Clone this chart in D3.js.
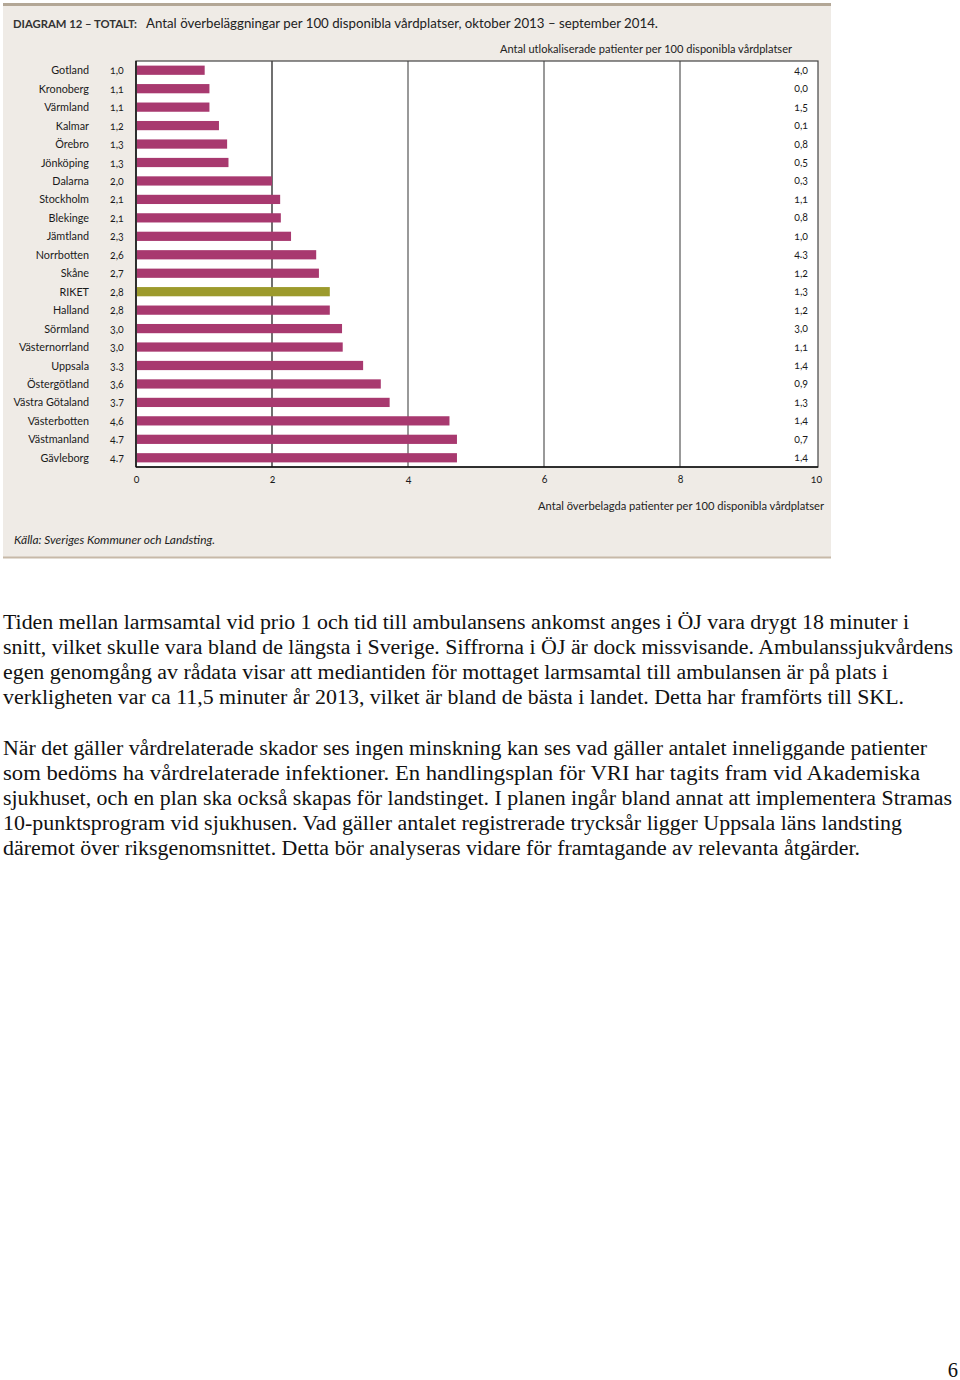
<!DOCTYPE html>
<html><head><meta charset="utf-8">
<script src="https://cdn.jsdelivr.net/npm/d3@7"></script>
<style>
html,body{margin:0;padding:0;background:#fff;}
svg{display:block;}
</style></head>
<body>
<script>
// ---- data ----
const regions = ["Gotland","Kronoberg","Värmland","Kalmar","Örebro","Jönköping","Dalarna","Stockholm","Blekinge","Jämtland","Norrbotten","Skåne","RIKET","Halland","Sörmland","Västernorrland","Uppsala","Östergötland","Västra Götaland","Västerbotten","Västmanland","Gävleborg"];
// printed values (överbelagda per 100 vårdplatser)
const overLabels = ["1,0","1,1","1,1","1,2","1,3","1,3","2,0","2,1","2,1","2,3","2,6","2,7","2,8","2,8","3,0","3,0","3.3","3,6","3.7","4,6","4.7","4.7"];
// bar lengths
const overValues = [1.01,1.08,1.08,1.22,1.34,1.36,2.0,2.12,2.13,2.28,2.65,2.69,2.85,2.85,3.03,3.04,3.34,3.6,3.73,4.61,4.72,4.72];
// utlokaliserade per 100 vårdplatser
const utlokLabels = ["4,0","0,0","1,5","0,1","0,8","0,5","0,3","1,1","0,8","1,0","4.3","1,2","1,3","1,2","3,0","1,1","1,4","0,9","1,3","1,4","0,7","1,4"];
const xTicks = [0,2,4,6,8,10];

const titleBold = "DIAGRAM 12 – TOTALT:";
const titleText = "Antal överbeläggningar per 100 disponibla vårdplatser, oktober 2013 – september 2014.";
const subTitle = "Antal utlokaliserade patienter per 100 disponibla vårdplatser";
const xTitle = "Antal överbelagda patienter per 100 disponibla vårdplatser";
const source = "Källa: Sveriges Kommuner och Landsting.";

const para1 = [
"Tiden mellan larmsamtal vid prio 1 och tid till ambulansens ankomst anges i ÖJ vara drygt 18 minuter i",
"snitt, vilket skulle vara bland de längsta i Sverige. Siffrorna i ÖJ är dock missvisande. Ambulanssjukvårdens",
"egen genomgång av rådata visar att mediantiden för mottaget larmsamtal till ambulansen är på plats i",
"verkligheten var ca 11,5 minuter år 2013, vilket är bland de bästa i landet. Detta har framförts till SKL."];
const para2 = [
"När det gäller vårdrelaterade skador ses ingen minskning kan ses vad gäller antalet inneliggande patienter",
"som bedöms ha vårdrelaterade infektioner. En handlingsplan för VRI har tagits fram vid Akademiska",
"sjukhuset, och en plan ska också skapas för landstinget. I planen ingår bland annat att implementera Stramas",
"10-punktsprogram vid sjukhusen. Vad gäller antalet registrerade trycksår ligger Uppsala läns landsting",
"däremot över riksgenomsnittet. Detta bör analyseras vidare för framtagande av relevanta åtgärder."];
const pageNo = "6";

// ---- drawing ----
const W = 960, H = 1380;
const svg = d3.select("body").append("svg").attr("width", W).attr("height", H);
svg.append("rect").attr("width", W).attr("height", H).attr("fill", "#fff");

const sans = "Lato, 'Open Sans', sans-serif";

// panel
const panel = svg.append("g");
panel.append("rect").attr("x", 3).attr("y", 4).attr("width", 828).attr("height", 554).attr("fill", "#efebe6");
panel.append("rect").attr("x", 3).attr("y", 3).attr("width", 828).attr("height", 3).attr("fill", "#b3a796");
panel.append("rect").attr("x", 3).attr("y", 556.5).attr("width", 828).attr("height", 2).attr("fill", "#c7b9a8");

// title
svg.append("text").attr("x", 13).attr("y", 28).attr("font-family", sans).attr("font-weight", 700)
  .attr("font-size", 10.5).attr("fill", "#333").attr("textLength", 124).attr("lengthAdjust", "spacingAndGlyphs")
  .text(titleBold);
svg.append("text").attr("x", 146).attr("y", 28).attr("font-family", sans)
  .attr("font-size", 13).attr("fill", "#222").attr("textLength", 512).attr("lengthAdjust", "spacingAndGlyphs")
  .text(titleText);
svg.append("text").attr("x", 792).attr("y", 53).attr("text-anchor", "end").attr("font-family", sans)
  .attr("font-size", 10.5).attr("fill", "#222").attr("textLength", 292).attr("lengthAdjust", "spacingAndGlyphs")
  .text(subTitle);

// scales
const x = d3.scaleLinear().domain([0, 10]).range([136, 816]);
const y = d3.scaleBand().domain(regions).range([61, 467]).paddingInner(0.5).paddingOuter(0.25);
const plotL = 136, plotR = 818, plotT = 61, plotB = 467;

const plot = svg.append("g");
plot.append("rect").attr("x", plotL).attr("y", plotT).attr("width", plotR - plotL).attr("height", plotB - plotT)
  .attr("fill", "#fff");

// gridlines
plot.selectAll("line.grid").data(xTicks.filter(d => d > 0 && d < 10)).join("line")
  .attr("class", "grid")
  .attr("x1", d => x(d)).attr("x2", d => x(d)).attr("y1", plotT).attr("y2", plotB)
  .attr("stroke", d => d === 2 ? "#111" : "#555").attr("stroke-width", 1.2);

// bars
plot.selectAll("rect.bar").data(regions).join("rect")
  .attr("class", "bar")
  .attr("x", x(0) + 1)
  .attr("y", d => y(d))
  .attr("width", (d, i) => x(overValues[i]) - x(0) - 1)
  .attr("height", y.bandwidth())
  .attr("fill", d => d === "RIKET" ? "#9c9a2c" : "#a8396f");

// border
plot.append("rect").attr("x", plotL).attr("y", plotT).attr("width", plotR - plotL).attr("height", plotB - plotT)
  .attr("fill", "none").attr("stroke", "#444").attr("stroke-width", 1.2);
plot.append("line").attr("x1", plotL).attr("x2", plotL).attr("y1", plotT).attr("y2", plotB).attr("stroke", "#111").attr("stroke-width", 1.5);
plot.append("line").attr("x1", plotL).attr("x2", plotR).attr("y1", plotB).attr("y2", plotB).attr("stroke", "#111").attr("stroke-width", 1.5);

// region labels
svg.append("g").selectAll("text").data(regions).join("text")
  .attr("x", 89).attr("y", d => y(d) + y.bandwidth() / 2 + 4)
  .attr("text-anchor", "end").attr("font-family", sans).attr("font-size", 10.8).attr("fill", "#1a1a1a")
  .text(d => d);

// printed values
svg.append("g").selectAll("text").data(regions).join("text")
  .attr("x", 110).attr("y", d => y(d) + y.bandwidth() / 2 + 4)
  .attr("font-family", sans).attr("font-size", 10.5).attr("fill", "#1a1a1a")
  .style("font-feature-settings", "'onum' 1")
  .text((d, i) => overLabels[i]);

// utlok values
svg.append("g").selectAll("text").data(regions).join("text")
  .attr("x", 808).attr("y", d => y(d) + y.bandwidth() / 2 + 3.5)
  .attr("text-anchor", "end").attr("font-family", sans).attr("font-size", 10.5).attr("fill", "#1a1a1a")
  .style("font-feature-settings", "'onum' 1")
  .text((d, i) => utlokLabels[i]);

// x axis
const xAxis = d3.axisBottom(x).tickValues(xTicks).tickSize(0).tickPadding(9).tickFormat(d3.format("d"));
const ax = svg.append("g").attr("transform", `translate(0,${plotB})`).call(xAxis);
ax.select(".domain").remove();
ax.selectAll("text").attr("font-family", sans).attr("font-size", 10.5).attr("fill", "#1a1a1a")
  .style("font-feature-settings", "'onum' 1");

svg.append("text").attr("x", 824).attr("y", 510).attr("text-anchor", "end").attr("font-family", sans)
  .attr("font-size", 10.5).attr("fill", "#222").attr("textLength", 286).attr("lengthAdjust", "spacingAndGlyphs")
  .text(xTitle);

svg.append("text").attr("x", 14).attr("y", 544).attr("font-family", sans).attr("font-style", "italic")
  .attr("font-size", 10.5).attr("fill", "#222").attr("textLength", 201).attr("lengthAdjust", "spacingAndGlyphs")
  .text(source);

// body text (line widths)
const p1Ends = [909, 953, 888, 904];
const p2Ends = [927, 920, 952, 902, 860];
const serif = "'Liberation Serif', 'Times New Roman', serif";
const body = svg.append("g").attr("font-family", serif).attr("font-size", 20.5).attr("fill", "#111");
body.selectAll("text.p1").data(para1).join("text").attr("class", "p1")
  .attr("x", 3).attr("y", (d, i) => 629 + i * 25)
  .attr("textLength", (d, i) => p1Ends[i] - 3).attr("lengthAdjust", "spacingAndGlyphs")
  .text(d => d);
body.selectAll("text.p2").data(para2).join("text").attr("class", "p2")
  .attr("x", 3).attr("y", (d, i) => 755 + i * 25)
  .attr("textLength", (d, i) => p2Ends[i] - 3).attr("lengthAdjust", "spacingAndGlyphs")
  .text(d => d);
svg.append("text").attr("x", 958).attr("y", 1377).attr("text-anchor", "end").attr("font-family", serif)
  .attr("font-size", 20.5).attr("fill", "#111").text(pageNo);
</script>
</body></html>
